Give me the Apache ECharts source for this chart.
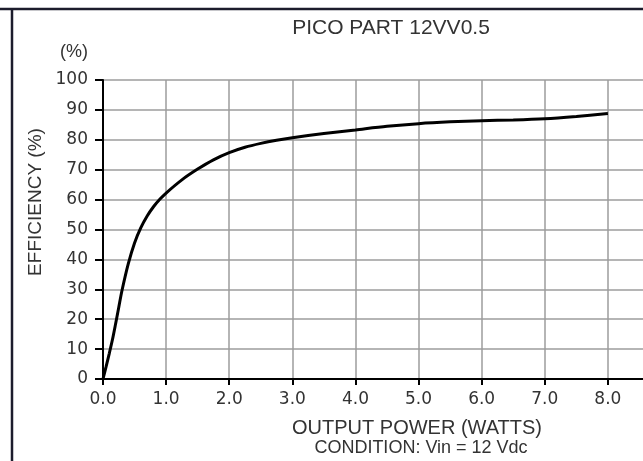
<!DOCTYPE html>
<html style="height: 100%">
<head>
<meta charset="utf-8">
<title>PICO PART 12VV0.5</title>
<script src="https://cdn.jsdelivr.net/npm/echarts@6/dist/echarts.min.js"></script>
</head>
<body style="height: 100%; margin: 0; background: #fff">
<div id="container" style="width: 643px; height: 461px"></div>
<script type="text/javascript">
// output power (W) and efficiency (%)
var powerW = [0, 0.05, 0.1, 0.15, 0.2, 0.25, 0.3, 0.4, 0.5, 0.6, 0.7, 0.8, 0.9, 1.0,
    1.25, 1.5, 1.75, 2.0, 2.25, 2.5, 2.75, 3.0, 3.5, 4.0, 4.5, 5.0, 5.5, 6.0, 6.5, 7.0, 7.5, 8.0];
var efficiencyPct = [0, 4.2, 8.6, 13.2, 18.5, 24, 29.5, 38.5, 45.5, 50.6, 54.5, 57.6, 60.1, 62.2,
    66.6, 70.2, 73.3, 75.7, 77.5, 78.8, 79.85, 80.7, 82.1, 83.3, 84.5, 85.4, 86, 86.4, 86.6, 87, 87.8, 88.8];

var titleText = 'PICO PART 12VV0.5';
var xName = 'OUTPUT POWER (WATTS)';
var yName = 'EFFICIENCY (%)';
var yUnit = '(%)';
var condition = 'CONDITION: Vin = 12 Vdc';

var points = [];
for (var i = 0; i < powerW.length; i++) {
    points.push([powerW[i], efficiencyPct[i]]);
}

var textFont = '"Liberation Sans", Arial, sans-serif';
var numFont = '"DejaVu Sans", sans-serif';
var textColor = '#333';
var gridColor = '#9c9c9c';

var myChart = echarts.init(document.getElementById('container'), null, {renderer: 'canvas'});

var option = {
    backgroundColor: '#fff',
    animation: false,
    grid: {
        left: 103,
        top: 80,
        width: 568,
        height: 299,
        containLabel: false,
        outerBoundsMode: 'none'
    },
    xAxis: {
        type: 'value',
        min: 0,
        max: 9,
        interval: 1,
        axisLine: {lineStyle: {color: '#000', width: 2}},
        axisTick: {show: true, length: 6, lineStyle: {color: '#000', width: 2}},
        axisLabel: {
            margin: 12,
            fontFamily: numFont,
            fontSize: 17,
            color: textColor,
            formatter: function (v) { return v > 8 ? '' : v.toFixed(1); }
        },
        splitLine: {lineStyle: {color: gridColor, width: 1.5}}
    },
    yAxis: {
        type: 'value',
        min: 0,
        max: 100,
        interval: 10,
        axisLine: {show: true, lineStyle: {color: '#000', width: 2}},
        axisTick: {show: true, length: 8, lineStyle: {color: '#000', width: 2}},
        axisLabel: {
            margin: 15,
            fontFamily: numFont,
            fontSize: 17,
            color: textColor
        },
        splitLine: {lineStyle: {color: gridColor, width: 1.5}}
    },
    graphic: [
        {type: 'line', shape: {x1: 0, y1: 9, x2: 643, y2: 9},
            style: {stroke: '#1c1c2c', lineWidth: 2.5}},
        {type: 'line', shape: {x1: 12, y1: 9, x2: 12, y2: 461},
            style: {stroke: '#1c1c2c', lineWidth: 2.5}},
        {type: 'text', x: 391, y: 28,
            style: {text: titleText, fill: textColor, font: '21px ' + textFont,
                textAlign: 'center', textVerticalAlign: 'middle'}},
        {type: 'text', x: 88, y: 52,
            style: {text: yUnit, fill: textColor, font: '18px ' + textFont,
                textAlign: 'right', textVerticalAlign: 'middle'}},
        {type: 'text', x: 36, y: 202, rotation: Math.PI / 2,
            style: {text: yName, fill: textColor, font: '19px ' + textFont,
                textAlign: 'center', textVerticalAlign: 'middle'}},
        {type: 'text', x: 417, y: 428,
            style: {text: xName, fill: textColor, font: '20px ' + textFont,
                textAlign: 'center', textVerticalAlign: 'middle'}},
        {type: 'text', x: 421, y: 448,
            style: {text: condition, fill: textColor, font: '18px ' + textFont,
                textAlign: 'center', textVerticalAlign: 'middle'}}
    ],
    series: [{
        type: 'line',
        data: points,
        smooth: 0.3,
        symbol: 'none',
        lineStyle: {color: '#000', width: 3},
        z: 5
    }]
};

myChart.setOption(option);
</script>
</body>
</html>
